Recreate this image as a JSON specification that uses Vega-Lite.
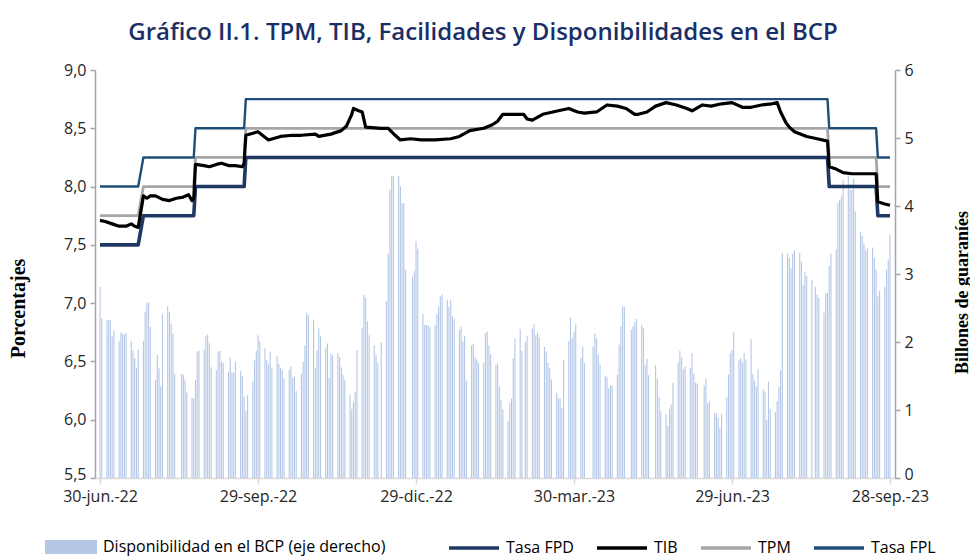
{
  "$schema": "https://vega.github.io/schema/vega-lite/v6.json",
  "width": 800,
  "height": 408,
  "autosize": {"type": "none"},
  "padding": {"left": 95, "top": 70, "right": 75, "bottom": 82},
  "background": "white",
  "config": {"view": {"stroke": null}, "font": "Open Sans"},
  "title": {
    "text": "Gráfico II.1. TPM, TIB, Facilidades y Disponibilidades en el BCP",
    "font": "Open Sans", "fontSize": 24, "fontWeight": 600, "color": "#1a2f66",
    "anchor": "middle", "dx": -12, "offset": 17
  },
  "datasets": {
    "disp": [
      {"fecha":"2022-06-30","valor":2.81},{"fecha":"2022-07-01","valor":2.35},
      {"fecha":"2022-07-04","valor":2.33},{"fecha":"2022-07-05","valor":2.32},{"fecha":"2022-07-06","valor":2.32},{"fecha":"2022-07-07","valor":2.08},{"fecha":"2022-07-08","valor":2.16},
      {"fecha":"2022-07-11","valor":2.01},{"fecha":"2022-07-12","valor":2.14},{"fecha":"2022-07-13","valor":2.12},{"fecha":"2022-07-14","valor":2.11},{"fecha":"2022-07-15","valor":2.13},
      {"fecha":"2022-07-18","valor":2.02},{"fecha":"2022-07-19","valor":1.87},{"fecha":"2022-07-20","valor":1.76},{"fecha":"2022-07-21","valor":1.62},{"fecha":"2022-07-22","valor":1.89},
      {"fecha":"2022-07-25","valor":2.02},{"fecha":"2022-07-26","valor":2.45},{"fecha":"2022-07-27","valor":2.57},{"fecha":"2022-07-28","valor":2.59},{"fecha":"2022-07-29","valor":2.22},
      {"fecha":"2022-08-01","valor":1.44},{"fecha":"2022-08-02","valor":1.81},{"fecha":"2022-08-03","valor":1.61},{"fecha":"2022-08-04","valor":1.35},{"fecha":"2022-08-05","valor":2.41},
      {"fecha":"2022-08-08","valor":2.53},{"fecha":"2022-08-09","valor":2.44},{"fecha":"2022-08-10","valor":2.27},{"fecha":"2022-08-11","valor":2.12},{"fecha":"2022-08-12","valor":1.53},
      {"fecha":"2022-08-16","valor":1.53},{"fecha":"2022-08-17","valor":1.52},{"fecha":"2022-08-18","valor":1.45},{"fecha":"2022-08-19","valor":1.26},
      {"fecha":"2022-08-22","valor":1.18},{"fecha":"2022-08-23","valor":1.17},{"fecha":"2022-08-24","valor":1.44},{"fecha":"2022-08-25","valor":1.86},{"fecha":"2022-08-26","valor":1.87},
      {"fecha":"2022-08-29","valor":1.89},{"fecha":"2022-08-30","valor":2.08},{"fecha":"2022-08-31","valor":2.11},{"fecha":"2022-09-01","valor":1.98},{"fecha":"2022-09-02","valor":1.63},
      {"fecha":"2022-09-05","valor":1.59},{"fecha":"2022-09-06","valor":1.86},{"fecha":"2022-09-07","valor":1.87},{"fecha":"2022-09-08","valor":1.71},{"fecha":"2022-09-09","valor":1.69},
      {"fecha":"2022-09-12","valor":1.56},{"fecha":"2022-09-13","valor":1.77},{"fecha":"2022-09-14","valor":1.55},{"fecha":"2022-09-15","valor":1.55},{"fecha":"2022-09-16","valor":1.71},
      {"fecha":"2022-09-19","valor":1.57},{"fecha":"2022-09-20","valor":1.50},{"fecha":"2022-09-21","valor":1.20},{"fecha":"2022-09-22","valor":0.98},{"fecha":"2022-09-23","valor":1.22},
      {"fecha":"2022-09-26","valor":1.42},{"fecha":"2022-09-27","valor":1.73},{"fecha":"2022-09-28","valor":1.87},{"fecha":"2022-09-29","valor":2.10},{"fecha":"2022-09-30","valor":2.02},
      {"fecha":"2022-10-03","valor":1.91},{"fecha":"2022-10-04","valor":1.73},{"fecha":"2022-10-05","valor":1.67},{"fecha":"2022-10-06","valor":1.86},{"fecha":"2022-10-07","valor":1.62},
      {"fecha":"2022-10-10","valor":1.79},{"fecha":"2022-10-11","valor":1.68},{"fecha":"2022-10-12","valor":1.62},{"fecha":"2022-10-13","valor":1.59},{"fecha":"2022-10-14","valor":1.47},
      {"fecha":"2022-10-17","valor":1.59},{"fecha":"2022-10-18","valor":1.64},{"fecha":"2022-10-19","valor":1.47},{"fecha":"2022-10-20","valor":1.49},{"fecha":"2022-10-21","valor":1.28},
      {"fecha":"2022-10-24","valor":1.53},{"fecha":"2022-10-25","valor":1.71},{"fecha":"2022-10-26","valor":1.95},{"fecha":"2022-10-27","valor":2.43},{"fecha":"2022-10-28","valor":2.40},
      {"fecha":"2022-10-31","valor":2.33},{"fecha":"2022-11-01","valor":1.62},{"fecha":"2022-11-02","valor":1.87},{"fecha":"2022-11-03","valor":2.20},{"fecha":"2022-11-04","valor":2.09},
      {"fecha":"2022-11-07","valor":1.92},{"fecha":"2022-11-08","valor":1.98},{"fecha":"2022-11-09","valor":1.47},{"fecha":"2022-11-10","valor":1.83},{"fecha":"2022-11-11","valor":1.80},
      {"fecha":"2022-11-14","valor":1.84},{"fecha":"2022-11-15","valor":1.78},{"fecha":"2022-11-16","valor":1.63},{"fecha":"2022-11-17","valor":1.51},{"fecha":"2022-11-18","valor":1.45},
      {"fecha":"2022-11-21","valor":1.22},{"fecha":"2022-11-22","valor":1.02},{"fecha":"2022-11-23","valor":1.12},{"fecha":"2022-11-24","valor":1.27},{"fecha":"2022-11-25","valor":1.88},
      {"fecha":"2022-11-28","valor":2.20},{"fecha":"2022-11-29","valor":2.69},{"fecha":"2022-11-30","valor":2.65},{"fecha":"2022-12-01","valor":2.30},{"fecha":"2022-12-02","valor":2.10},
      {"fecha":"2022-12-05","valor":1.95},{"fecha":"2022-12-06","valor":1.81},{"fecha":"2022-12-07","valor":1.69},{"fecha":"2022-12-09","valor":1.99},
      {"fecha":"2022-12-12","valor":2.60},{"fecha":"2022-12-13","valor":3.30},{"fecha":"2022-12-14","valor":4.24},{"fecha":"2022-12-15","valor":4.44},{"fecha":"2022-12-16","valor":4.44},
      {"fecha":"2022-12-19","valor":4.44},{"fecha":"2022-12-20","valor":4.29},{"fecha":"2022-12-21","valor":4.04},{"fecha":"2022-12-22","valor":4.04},{"fecha":"2022-12-23","valor":3.06},
      {"fecha":"2022-12-27","valor":2.96},{"fecha":"2022-12-28","valor":3.04},{"fecha":"2022-12-29","valor":3.48},{"fecha":"2022-12-30","valor":3.37},
      {"fecha":"2023-01-02","valor":2.41},{"fecha":"2023-01-03","valor":2.25},{"fecha":"2023-01-04","valor":2.25},{"fecha":"2023-01-05","valor":2.24},{"fecha":"2023-01-06","valor":2.22},
      {"fecha":"2023-01-09","valor":2.25},{"fecha":"2023-01-10","valor":2.41},{"fecha":"2023-01-11","valor":2.52},{"fecha":"2023-01-12","valor":2.67},{"fecha":"2023-01-13","valor":2.70},
      {"fecha":"2023-01-16","valor":2.62},{"fecha":"2023-01-17","valor":2.52},{"fecha":"2023-01-18","valor":2.62},{"fecha":"2023-01-19","valor":2.38},{"fecha":"2023-01-20","valor":2.34},
      {"fecha":"2023-01-23","valor":2.18},{"fecha":"2023-01-24","valor":2.22},{"fecha":"2023-01-25","valor":2.01},{"fecha":"2023-01-26","valor":2.09},{"fecha":"2023-01-27","valor":1.43},
      {"fecha":"2023-01-30","valor":1.95},{"fecha":"2023-01-31","valor":1.97},{"fecha":"2023-02-01","valor":1.77},{"fecha":"2023-02-02","valor":1.74},{"fecha":"2023-02-03","valor":1.69},
      {"fecha":"2023-02-06","valor":1.69},{"fecha":"2023-02-07","valor":2.13},{"fecha":"2023-02-08","valor":2.15},{"fecha":"2023-02-09","valor":1.95},{"fecha":"2023-02-10","valor":1.82},
      {"fecha":"2023-02-13","valor":1.66},{"fecha":"2023-02-14","valor":1.69},{"fecha":"2023-02-15","valor":1.35},{"fecha":"2023-02-16","valor":1.14},{"fecha":"2023-02-17","valor":1.01},
      {"fecha":"2023-02-20","valor":0.84},{"fecha":"2023-02-21","valor":1.10},{"fecha":"2023-02-22","valor":1.17},{"fecha":"2023-02-23","valor":1.76},{"fecha":"2023-02-24","valor":2.05},
      {"fecha":"2023-02-27","valor":2.19},{"fecha":"2023-02-28","valor":1.87},{"fecha":"2023-03-02","valor":2.00},{"fecha":"2023-03-03","valor":2.09},
      {"fecha":"2023-03-06","valor":2.20},{"fecha":"2023-03-07","valor":2.26},{"fecha":"2023-03-08","valor":2.10},{"fecha":"2023-03-09","valor":2.14},{"fecha":"2023-03-10","valor":2.07},
      {"fecha":"2023-03-13","valor":1.93},{"fecha":"2023-03-14","valor":1.86},{"fecha":"2023-03-15","valor":1.69},{"fecha":"2023-03-16","valor":1.62},{"fecha":"2023-03-17","valor":1.45},
      {"fecha":"2023-03-20","valor":1.25},{"fecha":"2023-03-21","valor":1.17},{"fecha":"2023-03-22","valor":1.17},{"fecha":"2023-03-23","valor":1.03},{"fecha":"2023-03-24","valor":1.74},
      {"fecha":"2023-03-27","valor":2.01},{"fecha":"2023-03-28","valor":2.36},{"fecha":"2023-03-29","valor":2.06},{"fecha":"2023-03-30","valor":2.15},{"fecha":"2023-03-31","valor":2.26},
      {"fecha":"2023-04-03","valor":1.77},{"fecha":"2023-04-04","valor":1.93},{"fecha":"2023-04-05","valor":1.69},
      {"fecha":"2023-04-10","valor":1.93},{"fecha":"2023-04-11","valor":2.13},{"fecha":"2023-04-12","valor":2.05},{"fecha":"2023-04-13","valor":1.82},{"fecha":"2023-04-14","valor":1.66},
      {"fecha":"2023-04-17","valor":1.50},{"fecha":"2023-04-18","valor":1.49},{"fecha":"2023-04-19","valor":1.32},{"fecha":"2023-04-20","valor":1.36},{"fecha":"2023-04-21","valor":1.36},
      {"fecha":"2023-04-24","valor":1.52},{"fecha":"2023-04-25","valor":1.96},{"fecha":"2023-04-26","valor":2.23},{"fecha":"2023-04-27","valor":2.52},{"fecha":"2023-04-28","valor":2.52},
      {"fecha":"2023-05-02","valor":2.18},{"fecha":"2023-05-03","valor":2.23},{"fecha":"2023-05-04","valor":2.29},{"fecha":"2023-05-05","valor":2.34},
      {"fecha":"2023-05-08","valor":2.25},{"fecha":"2023-05-09","valor":2.20},{"fecha":"2023-05-10","valor":1.66},{"fecha":"2023-05-11","valor":1.75},{"fecha":"2023-05-12","valor":1.51},
      {"fecha":"2023-05-16","valor":1.66},{"fecha":"2023-05-17","valor":1.46},{"fecha":"2023-05-18","valor":1.19},{"fecha":"2023-05-19","valor":0.98},
      {"fecha":"2023-05-22","valor":0.94},{"fecha":"2023-05-23","valor":0.77},{"fecha":"2023-05-24","valor":1.02},{"fecha":"2023-05-25","valor":1.08},{"fecha":"2023-05-26","valor":1.40},
      {"fecha":"2023-05-29","valor":1.70},{"fecha":"2023-05-30","valor":1.87},{"fecha":"2023-05-31","valor":1.77},{"fecha":"2023-06-01","valor":1.60},{"fecha":"2023-06-02","valor":1.64},
      {"fecha":"2023-06-05","valor":1.62},{"fecha":"2023-06-06","valor":1.84},{"fecha":"2023-06-07","valor":1.53},{"fecha":"2023-06-08","valor":1.40},{"fecha":"2023-06-09","valor":1.39},
      {"fecha":"2023-06-13","valor":1.36},{"fecha":"2023-06-14","valor":1.46},{"fecha":"2023-06-15","valor":1.10},{"fecha":"2023-06-16","valor":1.13},
      {"fecha":"2023-06-19","valor":0.96},{"fecha":"2023-06-20","valor":0.95},{"fecha":"2023-06-21","valor":0.89},{"fecha":"2023-06-22","valor":0.73},{"fecha":"2023-06-23","valor":0.94},
      {"fecha":"2023-06-26","valor":1.19},{"fecha":"2023-06-27","valor":1.52},{"fecha":"2023-06-28","valor":1.84},{"fecha":"2023-06-29","valor":1.88},{"fecha":"2023-06-30","valor":2.15},
      {"fecha":"2023-07-03","valor":1.73},{"fecha":"2023-07-04","valor":1.76},{"fecha":"2023-07-05","valor":1.70},{"fecha":"2023-07-06","valor":1.84},{"fecha":"2023-07-07","valor":1.74},
      {"fecha":"2023-07-10","valor":2.04},{"fecha":"2023-07-11","valor":1.53},{"fecha":"2023-07-12","valor":1.43},{"fecha":"2023-07-13","valor":1.34},{"fecha":"2023-07-14","valor":1.60},
      {"fecha":"2023-07-17","valor":1.30},{"fecha":"2023-07-18","valor":1.27},{"fecha":"2023-07-19","valor":0.85},{"fecha":"2023-07-20","valor":1.42},{"fecha":"2023-07-21","valor":1.02},
      {"fecha":"2023-07-24","valor":0.97},{"fecha":"2023-07-25","valor":1.13},{"fecha":"2023-07-26","valor":1.34},{"fecha":"2023-07-27","valor":1.59},{"fecha":"2023-07-28","valor":3.31},
      {"fecha":"2023-07-31","valor":3.30},{"fecha":"2023-08-01","valor":3.24},{"fecha":"2023-08-02","valor":3.08},{"fecha":"2023-08-03","valor":3.30},{"fecha":"2023-08-04","valor":3.35},
      {"fecha":"2023-08-07","valor":3.31},{"fecha":"2023-08-08","valor":3.18},{"fecha":"2023-08-09","valor":2.84},{"fecha":"2023-08-10","valor":3.03},{"fecha":"2023-08-11","valor":2.97},
      {"fecha":"2023-08-14","valor":2.92},{"fecha":"2023-08-16","valor":2.81},{"fecha":"2023-08-17","valor":2.70},{"fecha":"2023-08-18","valor":2.65},
      {"fecha":"2023-08-21","valor":2.43},{"fecha":"2023-08-22","valor":2.72},{"fecha":"2023-08-23","valor":2.72},{"fecha":"2023-08-24","valor":3.12},{"fecha":"2023-08-25","valor":3.30},
      {"fecha":"2023-08-28","valor":3.36},{"fecha":"2023-08-29","valor":4.04},{"fecha":"2023-08-30","valor":4.09},{"fecha":"2023-08-31","valor":4.14},{"fecha":"2023-09-01","valor":4.38},
      {"fecha":"2023-09-04","valor":4.45},{"fecha":"2023-09-05","valor":4.24},{"fecha":"2023-09-06","valor":4.24},{"fecha":"2023-09-07","valor":4.40},{"fecha":"2023-09-08","valor":3.92},
      {"fecha":"2023-09-11","valor":3.62},{"fecha":"2023-09-12","valor":3.56},{"fecha":"2023-09-13","valor":3.44},{"fecha":"2023-09-14","valor":3.35},{"fecha":"2023-09-15","valor":3.38},
      {"fecha":"2023-09-18","valor":3.39},{"fecha":"2023-09-19","valor":3.24},{"fecha":"2023-09-20","valor":3.06},{"fecha":"2023-09-21","valor":2.67},{"fecha":"2023-09-22","valor":2.75},
      {"fecha":"2023-09-25","valor":2.81},{"fecha":"2023-09-26","valor":3.07},{"fecha":"2023-09-27","valor":3.20},{"fecha":"2023-09-28","valor":3.58}
    ],
    "tasas": [
      {"fecha":"2022-06-30","serie":"Tasa FPD","valor":7.5},{"fecha":"2022-07-22","serie":"Tasa FPD","valor":7.5},{"fecha":"2022-07-25","serie":"Tasa FPD","valor":7.75},{"fecha":"2022-08-23","serie":"Tasa FPD","valor":7.75},{"fecha":"2022-08-24","serie":"Tasa FPD","valor":8.0},{"fecha":"2022-09-21","serie":"Tasa FPD","valor":8.0},{"fecha":"2022-09-22","serie":"Tasa FPD","valor":8.25},{"fecha":"2023-08-23","serie":"Tasa FPD","valor":8.25},{"fecha":"2023-08-24","serie":"Tasa FPD","valor":8.0},{"fecha":"2023-09-20","serie":"Tasa FPD","valor":8.0},{"fecha":"2023-09-21","serie":"Tasa FPD","valor":7.75},{"fecha":"2023-09-28","serie":"Tasa FPD","valor":7.75},
      {"fecha":"2022-06-30","serie":"TPM","valor":7.75},{"fecha":"2022-07-22","serie":"TPM","valor":7.75},{"fecha":"2022-07-25","serie":"TPM","valor":8.0},{"fecha":"2022-08-23","serie":"TPM","valor":8.0},{"fecha":"2022-08-24","serie":"TPM","valor":8.25},{"fecha":"2022-09-21","serie":"TPM","valor":8.25},{"fecha":"2022-09-22","serie":"TPM","valor":8.5},{"fecha":"2023-08-23","serie":"TPM","valor":8.5},{"fecha":"2023-08-24","serie":"TPM","valor":8.25},{"fecha":"2023-09-20","serie":"TPM","valor":8.25},{"fecha":"2023-09-21","serie":"TPM","valor":8.0},{"fecha":"2023-09-28","serie":"TPM","valor":8.0},
      {"fecha":"2022-06-30","serie":"Tasa FPL","valor":8.0},{"fecha":"2022-07-22","serie":"Tasa FPL","valor":8.0},{"fecha":"2022-07-25","serie":"Tasa FPL","valor":8.25},{"fecha":"2022-08-23","serie":"Tasa FPL","valor":8.25},{"fecha":"2022-08-24","serie":"Tasa FPL","valor":8.5},{"fecha":"2022-09-21","serie":"Tasa FPL","valor":8.5},{"fecha":"2022-09-22","serie":"Tasa FPL","valor":8.75},{"fecha":"2023-08-23","serie":"Tasa FPL","valor":8.75},{"fecha":"2023-08-24","serie":"Tasa FPL","valor":8.5},{"fecha":"2023-09-20","serie":"Tasa FPL","valor":8.5},{"fecha":"2023-09-21","serie":"Tasa FPL","valor":8.25},{"fecha":"2023-09-28","serie":"Tasa FPL","valor":8.25},
      {"fecha":"2022-06-30","serie":"TIB","valor":7.71},{"fecha":"2022-07-03","serie":"TIB","valor":7.70},{"fecha":"2022-07-07","serie":"TIB","valor":7.68},{"fecha":"2022-07-11","serie":"TIB","valor":7.66},{"fecha":"2022-07-15","serie":"TIB","valor":7.66},{"fecha":"2022-07-18","serie":"TIB","valor":7.68},{"fecha":"2022-07-20","serie":"TIB","valor":7.66},{"fecha":"2022-07-22","serie":"TIB","valor":7.65},
      {"fecha":"2022-07-25","serie":"TIB","valor":7.92},{"fecha":"2022-07-27","serie":"TIB","valor":7.90},{"fecha":"2022-07-29","serie":"TIB","valor":7.92},{"fecha":"2022-08-01","serie":"TIB","valor":7.92},{"fecha":"2022-08-05","serie":"TIB","valor":7.89},{"fecha":"2022-08-09","serie":"TIB","valor":7.88},{"fecha":"2022-08-13","serie":"TIB","valor":7.90},{"fecha":"2022-08-17","serie":"TIB","valor":7.91},{"fecha":"2022-08-20","serie":"TIB","valor":7.93},{"fecha":"2022-08-22","serie":"TIB","valor":7.88},{"fecha":"2022-08-23","serie":"TIB","valor":7.90},
      {"fecha":"2022-08-24","serie":"TIB","valor":8.19},{"fecha":"2022-08-29","serie":"TIB","valor":8.18},{"fecha":"2022-09-01","serie":"TIB","valor":8.17},{"fecha":"2022-09-05","serie":"TIB","valor":8.19},{"fecha":"2022-09-08","serie":"TIB","valor":8.20},{"fecha":"2022-09-12","serie":"TIB","valor":8.18},{"fecha":"2022-09-16","serie":"TIB","valor":8.18},{"fecha":"2022-09-20","serie":"TIB","valor":8.17},{"fecha":"2022-09-21","serie":"TIB","valor":8.20},
      {"fecha":"2022-09-22","serie":"TIB","valor":8.44},{"fecha":"2022-09-29","serie":"TIB","valor":8.47},{"fecha":"2022-10-05","serie":"TIB","valor":8.40},{"fecha":"2022-10-12","serie":"TIB","valor":8.43},{"fecha":"2022-10-19","serie":"TIB","valor":8.44},{"fecha":"2022-10-24","serie":"TIB","valor":8.44},{"fecha":"2022-11-01","serie":"TIB","valor":8.45},{"fecha":"2022-11-03","serie":"TIB","valor":8.43},{"fecha":"2022-11-10","serie":"TIB","valor":8.45},{"fecha":"2022-11-16","serie":"TIB","valor":8.48},{"fecha":"2022-11-19","serie":"TIB","valor":8.52},{"fecha":"2022-11-22","serie":"TIB","valor":8.62},{"fecha":"2022-11-23","serie":"TIB","valor":8.67},{"fecha":"2022-11-26","serie":"TIB","valor":8.65},{"fecha":"2022-11-28","serie":"TIB","valor":8.64},{"fecha":"2022-11-30","serie":"TIB","valor":8.51},
      {"fecha":"2022-12-09","serie":"TIB","valor":8.50},{"fecha":"2022-12-13","serie":"TIB","valor":8.50},{"fecha":"2022-12-17","serie":"TIB","valor":8.44},{"fecha":"2022-12-20","serie":"TIB","valor":8.40},{"fecha":"2022-12-26","serie":"TIB","valor":8.41},{"fecha":"2023-01-01","serie":"TIB","valor":8.40},{"fecha":"2023-01-09","serie":"TIB","valor":8.40},{"fecha":"2023-01-18","serie":"TIB","valor":8.41},{"fecha":"2023-01-23","serie":"TIB","valor":8.43},{"fecha":"2023-01-29","serie":"TIB","valor":8.48},{"fecha":"2023-02-06","serie":"TIB","valor":8.50},{"fecha":"2023-02-11","serie":"TIB","valor":8.53},{"fecha":"2023-02-14","serie":"TIB","valor":8.56},{"fecha":"2023-02-17","serie":"TIB","valor":8.62},
      {"fecha":"2023-03-01","serie":"TIB","valor":8.62},{"fecha":"2023-03-03","serie":"TIB","valor":8.58},{"fecha":"2023-03-06","serie":"TIB","valor":8.57},{"fecha":"2023-03-12","serie":"TIB","valor":8.62},{"fecha":"2023-03-21","serie":"TIB","valor":8.65},{"fecha":"2023-03-27","serie":"TIB","valor":8.67},{"fecha":"2023-04-01","serie":"TIB","valor":8.64},{"fecha":"2023-04-05","serie":"TIB","valor":8.63},{"fecha":"2023-04-12","serie":"TIB","valor":8.64},{"fecha":"2023-04-18","serie":"TIB","valor":8.70},{"fecha":"2023-04-24","serie":"TIB","valor":8.69},{"fecha":"2023-04-29","serie":"TIB","valor":8.67},{"fecha":"2023-05-04","serie":"TIB","valor":8.62},{"fecha":"2023-05-06","serie":"TIB","valor":8.62},{"fecha":"2023-05-11","serie":"TIB","valor":8.64},{"fecha":"2023-05-16","serie":"TIB","valor":8.69},{"fecha":"2023-05-22","serie":"TIB","valor":8.72},{"fecha":"2023-05-28","serie":"TIB","valor":8.70},{"fecha":"2023-06-03","serie":"TIB","valor":8.67},{"fecha":"2023-06-06","serie":"TIB","valor":8.65},{"fecha":"2023-06-12","serie":"TIB","valor":8.70},{"fecha":"2023-06-17","serie":"TIB","valor":8.69},{"fecha":"2023-06-23","serie":"TIB","valor":8.71},{"fecha":"2023-06-29","serie":"TIB","valor":8.72},
      {"fecha":"2023-07-05","serie":"TIB","valor":8.68},{"fecha":"2023-07-10","serie":"TIB","valor":8.68},{"fecha":"2023-07-16","serie":"TIB","valor":8.70},{"fecha":"2023-07-22","serie":"TIB","valor":8.71},{"fecha":"2023-07-25","serie":"TIB","valor":8.72},{"fecha":"2023-07-27","serie":"TIB","valor":8.64},{"fecha":"2023-07-30","serie":"TIB","valor":8.55},{"fecha":"2023-08-01","serie":"TIB","valor":8.51},{"fecha":"2023-08-04","serie":"TIB","valor":8.47},{"fecha":"2023-08-11","serie":"TIB","valor":8.43},{"fecha":"2023-08-17","serie":"TIB","valor":8.41},{"fecha":"2023-08-23","serie":"TIB","valor":8.39},
      {"fecha":"2023-08-24","serie":"TIB","valor":8.17},{"fecha":"2023-08-28","serie":"TIB","valor":8.15},{"fecha":"2023-09-01","serie":"TIB","valor":8.12},{"fecha":"2023-09-06","serie":"TIB","valor":8.11},{"fecha":"2023-09-14","serie":"TIB","valor":8.11},{"fecha":"2023-09-20","serie":"TIB","valor":8.11},{"fecha":"2023-09-21","serie":"TIB","valor":7.87},{"fecha":"2023-09-25","serie":"TIB","valor":7.85},{"fecha":"2023-09-28","serie":"TIB","valor":7.84}
    ]
  },
  "layer": [
    {
      "data": {"name": "disp"},
      "mark": {"type": "bar", "size": 1.1},
      "encoding": {
        "x": {
          "field": "fecha", "type": "temporal",
          "scale": {"type": "utc", "domain": [{"year": 2022, "month": 6, "date": 30, "utc": true}, {"year": 2023, "month": 9, "date": 28, "utc": true}]},
          "axis": {
            "title": null, "grid": false,
            "values": [
              {"year": 2022, "month": 6, "date": 30, "utc": true},
              {"year": 2022, "month": 9, "date": 29, "utc": true},
              {"year": 2022, "month": 12, "date": 29, "utc": true},
              {"year": 2023, "month": 3, "date": 30, "utc": true},
              {"year": 2023, "month": 6, "date": 29, "utc": true},
              {"year": 2023, "month": 9, "date": 28, "utc": true}
            ],
            "labelExpr": "utcdate(datum.value) + '-' + ['ene.','feb.','mar.','abr.','may.','jun.','jul.','ago.','sep.','oct.','nov.','dic.'][utcmonth(datum.value)] + '-' + utcFormat(datum.value, '%y')",
            "labelFont": "Open Sans", "labelFontSize": 16, "labelColor": "#262626",
            "labelOverlap": false, "labelBound": false, "labelFlush": false, "labelPadding": 4,
            "domainColor": "#d9d9d9", "domainWidth": 1.5, "tickColor": "#d9d9d9", "tickSize": 6, "tickWidth": 1.5
          }
        },
        "y": {
          "field": "valor", "type": "quantitative",
          "scale": {"domain": [0, 6], "nice": false},
          "axis": {
            "orient": "right", "grid": false, "values": [0, 1, 2, 3, 4, 5, 6],
            "labelOffset": {"condition": {"test": "datum.value == 0", "value": -4}, "value": 0},
            "title": "Billones de guaraníes", "titleFont": "Liberation Serif", "titleFontSize": 18, "titleFontWeight": "bold",
            "titleColor": "#000000", "titleAngle": -90, "titleX": 67, "titleY": 222, "titleAlign": "center", "titleBaseline": "middle",
            "labelFont": "Open Sans", "labelFontSize": 16, "labelColor": "#262626", "labelPadding": 4,
            "domainColor": "#a6a6a6", "domainWidth": 1.5, "tickColor": "#a6a6a6", "tickSize": 5, "tickWidth": 1.5
          }
        },
        "color": {
          "datum": "Disponibilidad en el BCP (eje derecho)",
          "scale": {"domain": ["Disponibilidad en el BCP (eje derecho)"], "range": ["#b4c7e7"]},
          "legend": {
            "title": null, "orient": "none", "legendX": -50, "legendY": 451,
            "symbolType": "M-1,-0.27H1V0.27H-1Z", "symbolSize": 2704, "symbolStrokeWidth": 0,
            "labelFont": "Open Sans", "labelFontSize": 16, "labelColor": "#000000", "labelOffset": 6, "labelLimit": 0
          }
        }
      }
    },
    {
      "data": {"name": "tasas"},
      "mark": {"type": "line", "interpolate": "linear", "strokeJoin": "round"},
      "encoding": {
        "x": {"field": "fecha", "type": "temporal"},
        "y": {
          "field": "valor", "type": "quantitative",
          "scale": {"domain": [5.5, 9], "nice": false, "zero": false},
          "axis": {
            "orient": "left", "grid": false, "values": [5.5, 6, 6.5, 7, 7.5, 8, 8.5, 9],
            "labelExpr": "replace(format(datum.value, '.1f'), '.', ',')",
            "labelOffset": {"condition": {"test": "datum.value == 5.5", "value": -4}, "value": 0},
            "title": "Porcentajes", "titleFont": "Liberation Serif", "titleFontSize": 20, "titleFontWeight": "bold",
            "titleColor": "#000000", "titleAngle": -90, "titleX": -77, "titleY": 238, "titleAlign": "center", "titleBaseline": "middle",
            "labelFont": "Open Sans", "labelFontSize": 16, "labelColor": "#262626", "labelPadding": 4,
            "domainColor": "#a6a6a6", "domainWidth": 1.5, "tickColor": "#a6a6a6", "tickSize": 5, "tickWidth": 1.5
          }
        },
        "color": {
          "field": "serie", "type": "nominal",
          "scale": {"domain": ["Tasa FPD", "TIB", "TPM", "Tasa FPL"], "range": ["#203864", "#000000", "#a6a6a6", "#1f4e79"]},
          "legend": {
            "title": null, "orient": "none", "legendX": 352, "legendY": 451, "direction": "horizontal",
            "symbolType": "M-1,0H1", "symbolSize": 2500, "symbolStrokeWidth": 3.5,
            "labelFont": "Open Sans", "labelFontSize": 16, "labelColor": "#000000", "labelOffset": 5, "columnPadding": 16
          }
        },
        "strokeWidth": {
          "field": "serie", "type": "nominal",
          "scale": {"domain": ["Tasa FPD", "TIB", "TPM", "Tasa FPL"], "range": [3.6, 2.4, 3.8, 3.6]},
          "legend": null
        }
      }
    }
  ],
  "resolve": {"scale": {"y": "independent", "color": "independent"}, "legend": {"color": "independent"}}
}
